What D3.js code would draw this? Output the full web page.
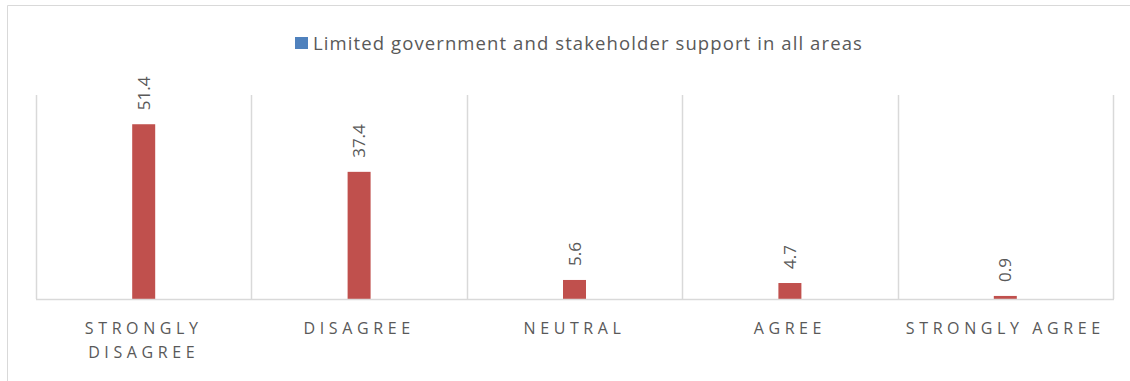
<!DOCTYPE html>
<html>
<head>
<meta charset="utf-8">
<script src="https://cdn.jsdelivr.net/npm/d3@7"></script>
<style>
  html, body { margin: 0; padding: 0; background: #fff; }
  svg { display: block; }
  text { font-family: "Open Sans", "Noto Sans", sans-serif; fill: #595959; }
</style>
</head>
<body>
<svg id="chart" width="1130" height="381"></svg>
<script>
// Survey responses, percent
const categories = ["STRONGLY DISAGREE", "DISAGREE", "NEUTRAL", "AGREE", "STRONGLY AGREE"];
const values = [51.4, 37.4, 5.6, 4.7, 0.9];
const seriesName = "Limited government and stakeholder support in all areas";
const yMax = 60;

const svg = d3.select("#chart");
const W = 1130, H = 381;
const plot = { left: 36, right: 1113, top: 95, bottom: 299 };

// chart frame
svg.append("path")
  .attr("d", `M7.5,${H} V5.5 H${W}`)
  .attr("fill", "none")
  .attr("stroke", "#d9d9d9")
  .attr("stroke-width", 1);

const x = d3.scaleBand().domain(categories).range([plot.left, plot.right]).paddingInner(0).paddingOuter(0);
const y = d3.scaleLinear().domain([0, yMax]).range([plot.bottom, plot.top]);

// vertical category separators
const edges = categories.map(c => x(c)).concat([plot.right]);
svg.append("g").selectAll("line").data(edges).join("line")
  .attr("x1", d => Math.round(d) + 0.5).attr("x2", d => Math.round(d) + 0.5)
  .attr("y1", plot.top).attr("y2", plot.bottom)
  .attr("stroke", "#d9d9d9").attr("stroke-width", 1.5);

// bars
const barW = 23;
svg.append("g").selectAll("rect").data(values).join("rect")
  .attr("x", (d, i) => x(categories[i]) + x.bandwidth() / 2 - barW / 2)
  .attr("y", d => y(d))
  .attr("width", barW)
  .attr("height", d => y(0) - y(d))
  .attr("fill", "#c0504d");

// baseline axis
svg.append("line")
  .attr("x1", plot.left).attr("x2", plot.right + 1)
  .attr("y1", plot.bottom + 0.5).attr("y2", plot.bottom + 0.5)
  .attr("stroke", "#d9d9d9").attr("stroke-width", 1.5);

// value labels, rotated
svg.append("g").selectAll("text").data(values).join("text")
  .attr("transform", (d, i) => {
    const cx = x(categories[i]) + x.bandwidth() / 2 + 6;
    return `translate(${cx},${y(d) - 14}) rotate(-90)`;
  })
  .attr("text-anchor", "start")
  .style("font-size", "17px")
  .text(d => d.toFixed(1));

// category labels, wrapped to the band width
const catG = svg.append("g");
categories.forEach((c, i) => {
  const cx = x(c) + x.bandwidth() / 2;
  const lines = c === "STRONGLY DISAGREE" ? ["STRONGLY", "DISAGREE"] : [c];
  lines.forEach((ln, j) => {
    catG.append("text")
      .attr("x", cx)
      .attr("y", 334 + j * 24)
      .attr("text-anchor", "middle")
      .style("font-size", "16px")
      .style("letter-spacing", "4.6px")
      .text(ln);
  });
});

// legend
const lg = svg.append("g");
lg.append("rect").attr("x", 295).attr("y", 37).attr("width", 13).attr("height", 12).attr("fill", "#4f81bd");
lg.append("text").attr("x", 313).attr("y", 50)
  .style("font-size", "18.5px").style("letter-spacing", "1.1px")
  .text(seriesName);
</script>
</body>
</html>
